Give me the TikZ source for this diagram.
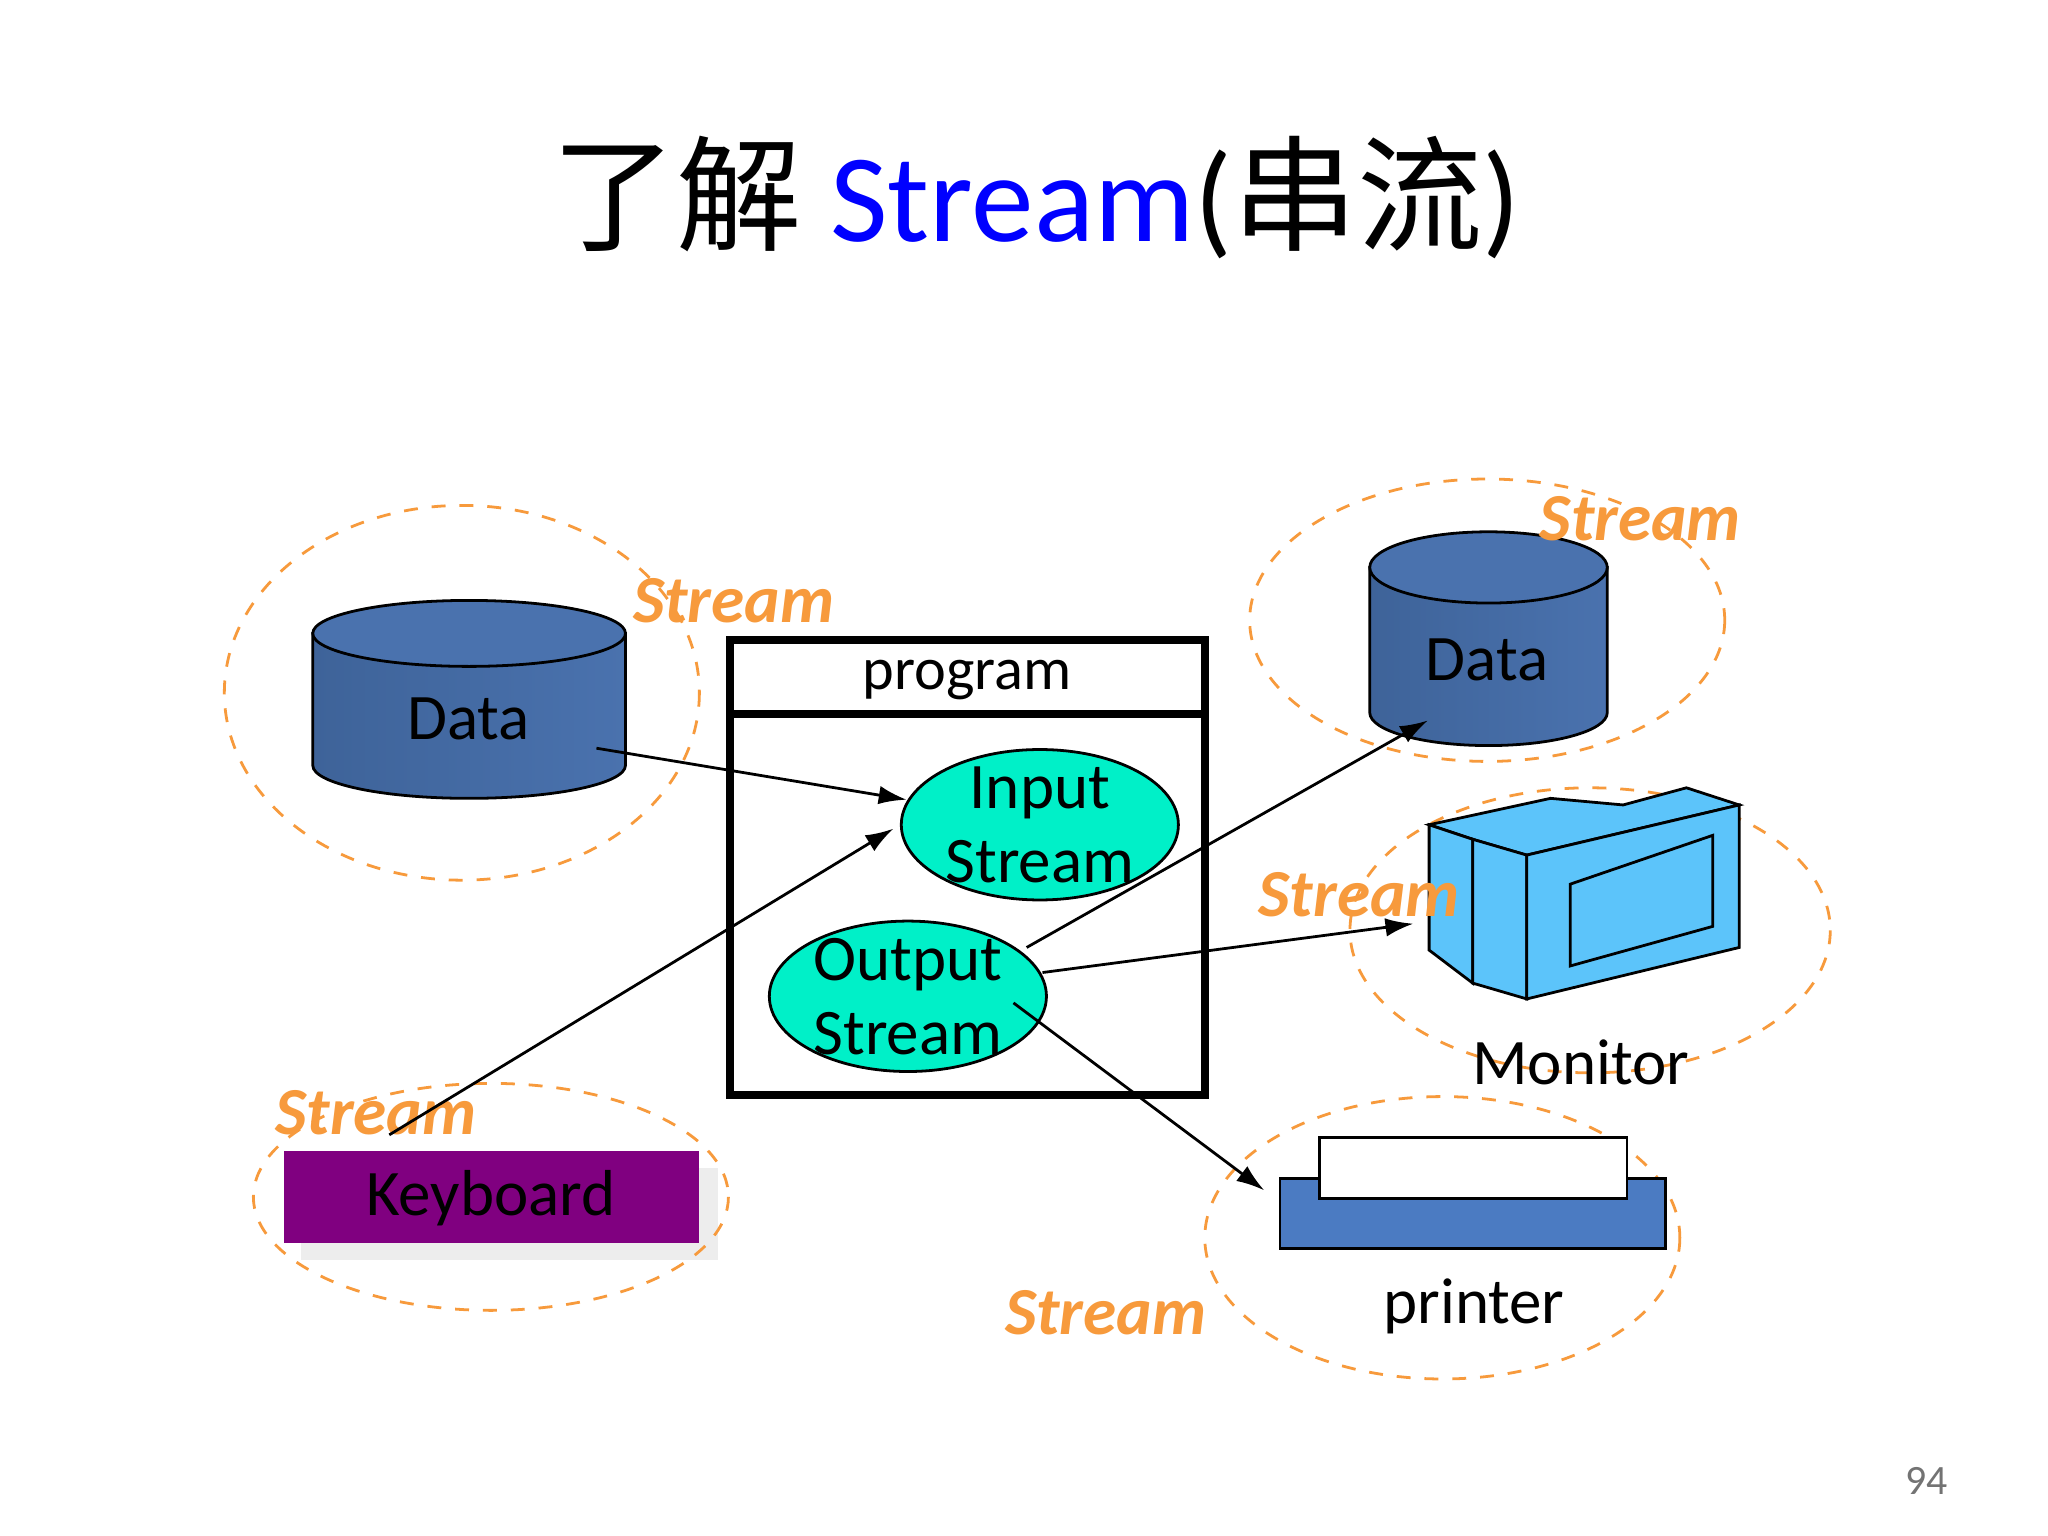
\documentclass[tikz,border=0pt]{standalone}
\usepackage{fontspec}
\setmainfont{Carlito}
\newfontfamily\cjk{Noto Sans CJK SC}
\usetikzlibrary{arrows.meta}
\definecolor{strorange}{HTML}{F79A3C}
\definecolor{cylblue}{HTML}{4A72AE}
\definecolor{cylblued}{HTML}{3E6399}
\definecolor{ovcyan}{HTML}{00F0C8}
\definecolor{monblue}{HTML}{5CC4FA}
\definecolor{prnblue}{HTML}{4B7BC2}
\definecolor{kbpurple}{HTML}{800080}
\tikzset{
  zone/.style={draw=strorange, dashed, line width=0.6pt},
  slabel/.style={text=strorange, font=\fontsize{14.5}{14.5}\selectfont\bfseries\itshape},
  big/.style={font=\fontsize{14}{14}\selectfont},
  flow/.style={-{Latex[length=6pt,width=4pt]}, line width=0.6pt},
}
\begin{document}
\begin{tikzpicture}[x=0.01cm, y=-0.01cm]
\useasboundingbox (0,0) rectangle (1552,1164);
\fill[white] (0,0) rectangle (1552,1164);

% title
\node (title) at (785,150) {\fontsize{27}{27}\selectfont{\cjk 了解} \textcolor{blue}{Stream}({\cjk 串流})};

% left data
\draw[zone] (350,525) ellipse [x radius=180, y radius=142];
\draw[left color=cylblued, right color=cylblue, draw=black, line width=0.6pt]
  (237,480) -- (237,580) arc[start angle=180, end angle=360, x radius=118.5, y radius=-25] -- (474,480) -- cycle;
\draw[fill=cylblue, draw=black, line width=0.6pt] (355.5,480) ellipse [x radius=118.5, y radius=25];
\node[big] (dataL) at (355,545) {Data};
\node[slabel] (sL) at (556,455) {Stream};

% program
\draw[line width=1.8pt] (553,485) rectangle (913,830);
\draw[line width=1.8pt] (553,541) -- (913,541);
\node[font=\fontsize{13}{13}\selectfont] (prog) at (733,515) {program};
\draw[draw=black, fill=ovcyan, line width=0.6pt] (788,625) ellipse [x radius=105, y radius=57];
\node[big, align=center, inner sep=0pt] (inS) at (788,625) {Input\\[2pt]Stream};
\draw[draw=black, fill=ovcyan, line width=0.6pt] (688,755) ellipse [x radius=105, y radius=57];
\node[big, align=center, inner sep=0pt] (outS) at (688,755) {Output\\[2pt]Stream};

% right data
\draw[zone] (1127,470) ellipse [x radius=180, y radius=107];
\draw[left color=cylblued, right color=cylblue, draw=black, line width=0.6pt]
  (1038,430) -- (1038,540) arc[start angle=180, end angle=360, x radius=90, y radius=-25] -- (1218,430) -- cycle;
\draw[fill=cylblue, draw=black, line width=0.6pt] (1128,430) ellipse [x radius=90, y radius=27];
\node[big] (dataR) at (1127,500) {Data};
\node[slabel] (sR) at (1243,393) {Stream};

% monitor
\draw[zone] (1205,705) ellipse [x radius=182, y radius=108];
\begin{scope}[fill=monblue, draw=black, line width=0.6pt]
  \filldraw (1083,625) -- (1175,605) -- (1230,610) -- (1278,597) -- (1318,610) -- (1157,648) -- (1116,636) -- cycle;
  \filldraw (1083,625) -- (1116,636) -- (1116,745) -- (1083,720) -- cycle;
  \filldraw (1116,636) -- (1157,648) -- (1157,757) -- (1116,745) -- cycle;
  \filldraw (1157,648) -- (1318,610) -- (1318,718) -- (1157,757) -- cycle;
  \filldraw (1190,670) -- (1298,633) -- (1298,702) -- (1190,732) -- cycle;
\end{scope}
\node[slabel] (sM) at (1030,678) {Stream};
\node[big] (mon) at (1198,805) {Monitor};

% printer
\draw[zone] (1093,938) ellipse [x radius=180, y radius=107];
\draw[fill=prnblue, draw=black, line width=0.6pt] (970,893) rectangle (1262,946);
\draw[fill=white, draw=black, line width=0.6pt] (1000,862) rectangle (1233,908);
\node[big] (prn) at (1117,990) {printer};
\node[slabel] (sP) at (838,995) {Stream};

% keyboard
\fill[black!7] (228,885) rectangle (544,955);
\fill[kbpurple] (215,872) rectangle (530,942);
\node[big] (kb) at (372,908) {Keyboard};
\draw[zone] (372,907) ellipse [x radius=180, y radius=86];
\node[slabel] (sK) at (285,843) {Stream};

% connectors
\coordinate (a1) at (452,567); \coordinate (a2) at (687,606);
\coordinate (b1) at (295,860); \coordinate (b2) at (677,628);
\coordinate (c1) at (778,718); \coordinate (c2) at (1082,546);
\coordinate (d1) at (790,737); \coordinate (d2) at (1071,700);
\coordinate (e1) at (768,760); \coordinate (e2) at (958,902);
\draw[flow] (a1) -- (a2);
\draw[flow] (b1) -- (b2);
\draw[flow] (c1) -- (c2);
\draw[flow] (d1) -- (d2);
\draw[flow] (e1) -- (e2);

\node[text=black!55, font=\fontsize{9}{9}\selectfont] (pg) at (1460,1122) {94};
\end{tikzpicture}
\end{document}
